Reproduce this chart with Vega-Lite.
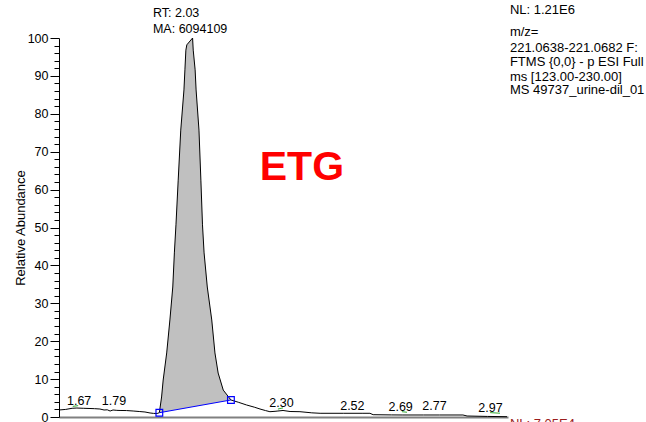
{
  "$schema": "https://vega.github.io/schema/vega-lite/v6.json",
  "width": 449,
  "height": 379,
  "autosize": {"type": "none"},
  "padding": {"left": 59, "top": 38, "right": 138, "bottom": 5},
  "background": "white",
  "config": {"view": {"stroke": null}, "font": "Liberation Sans"},
  "resolve": {"axis": {"y": "independent"}},
  "datasets": {
    "trace": [
      {"t": 1.609, "y": 1.85}, {"t": 1.63, "y": 2.0}, {"t": 1.65, "y": 2.3}, {"t": 1.665, "y": 2.37},
      {"t": 1.685, "y": 2.3}, {"t": 1.706, "y": 2.24}, {"t": 1.72, "y": 2.2}, {"t": 1.737, "y": 2.11},
      {"t": 1.75, "y": 1.85}, {"t": 1.76, "y": 1.9}, {"t": 1.769, "y": 1.58}, {"t": 1.778, "y": 1.85},
      {"t": 1.79, "y": 1.75}, {"t": 1.8, "y": 1.72}, {"t": 1.82, "y": 1.7}, {"t": 1.841, "y": 1.58},
      {"t": 1.86, "y": 1.45}, {"t": 1.878, "y": 1.32}, {"t": 1.894, "y": 1.06}, {"t": 1.905, "y": 0.95},
      {"t": 1.916, "y": 0.92},
      {"t": 1.923, "y": 1.13, "base": 1.13},
      {"t": 1.93, "y": 5.28, "base": 1.24},
      {"t": 1.935, "y": 9.76, "base": 1.31},
      {"t": 1.946, "y": 16.9, "base": 1.48},
      {"t": 1.956, "y": 25.6, "base": 1.63},
      {"t": 1.965, "y": 34.3, "base": 1.76},
      {"t": 1.97, "y": 43.3, "base": 1.84},
      {"t": 1.975, "y": 50.7, "base": 1.91},
      {"t": 1.982, "y": 62.5, "base": 2.02},
      {"t": 1.99, "y": 75.7, "base": 2.14},
      {"t": 2.0, "y": 86.3, "base": 2.29},
      {"t": 2.003, "y": 91.6, "base": 2.33},
      {"t": 2.006, "y": 96.8, "base": 2.38},
      {"t": 2.009, "y": 98.2, "base": 2.42},
      {"t": 2.027, "y": 100, "base": 2.69},
      {"t": 2.029, "y": 96.8, "base": 2.72},
      {"t": 2.035, "y": 91.6, "base": 2.81},
      {"t": 2.038, "y": 86.3, "base": 2.86},
      {"t": 2.047, "y": 75.7, "base": 2.99},
      {"t": 2.053, "y": 62.5, "base": 3.08},
      {"t": 2.058, "y": 50.7, "base": 3.16},
      {"t": 2.063, "y": 43.3, "base": 3.23},
      {"t": 2.073, "y": 34.3, "base": 3.38},
      {"t": 2.087, "y": 25.6, "base": 3.59},
      {"t": 2.097, "y": 16.9, "base": 3.74},
      {"t": 2.107, "y": 11.6, "base": 3.89},
      {"t": 2.123, "y": 7.1, "base": 4.13},
      {"t": 2.147, "y": 4.49, "base": 4.49},
      {"t": 2.17, "y": 3.9}, {"t": 2.196, "y": 3.17}, {"t": 2.22, "y": 2.6}, {"t": 2.238, "y": 2.11},
      {"t": 2.255, "y": 1.7}, {"t": 2.269, "y": 1.4}, {"t": 2.285, "y": 1.5}, {"t": 2.294, "y": 1.58},
      {"t": 2.31, "y": 1.72}, {"t": 2.332, "y": 1.45}, {"t": 2.363, "y": 1.4}, {"t": 2.4, "y": 1.1},
      {"t": 2.426, "y": 0.98}, {"t": 2.5, "y": 0.98}, {"t": 2.56, "y": 0.98}, {"t": 2.582, "y": 0.98},
      {"t": 2.592, "y": 0.61}, {"t": 2.65, "y": 0.55}, {"t": 2.685, "y": 0.53}, {"t": 2.75, "y": 0.53},
      {"t": 2.8, "y": 0.53}, {"t": 2.873, "y": 0.53}, {"t": 2.886, "y": 0.26}, {"t": 2.95, "y": 0.15},
      {"t": 3.011, "y": 0.08}
    ],
    "blue": [{"t": 1.923, "y": 1.13}, {"t": 2.147, "y": 4.49}],
    "green": [
      {"t": 1.652, "t2": 1.669, "y": 2.8, "y2": 3.0},
      {"t": 2.294, "t2": 2.31, "y": 2.1, "y2": 2.4},
      {"t": 2.682, "t2": 2.698, "y": 1.4, "y2": 1.25},
      {"t": 2.958, "t2": 2.989, "y": 1.15, "y2": 1.0}
    ],
    "peaks": [
      {"t": 1.672, "y": 3.17, "label": "1.67"},
      {"t": 1.781, "y": 3.17, "label": "1.79"},
      {"t": 2.305, "y": 2.64, "label": "2.30"},
      {"t": 2.527, "y": 1.85, "label": "2.52"},
      {"t": 2.678, "y": 1.66, "label": "2.69"},
      {"t": 2.784, "y": 1.85, "label": "2.77"},
      {"t": 2.959, "y": 1.4, "label": "2.97"}
    ],
    "rtma": [
      {"t": 1.903, "y": 105.6, "label": "RT: 2.03"},
      {"t": 1.903, "y": 101.4, "label": "MA: 6094109"}
    ],
    "info": [
      {"t": 3.02, "y": 106.3, "label": "NL: 1.21E6"},
      {"t": 3.02, "y": 100.4, "label": "m/z="},
      {"t": 3.02, "y": 96.4, "label": "221.0638-221.0682 F:"},
      {"t": 3.02, "y": 92.6, "label": "FTMS {0,0}  - p ESI Full"},
      {"t": 3.02, "y": 88.7, "label": "ms [123.00-230.00]"},
      {"t": 3.02, "y": 85.1, "label": "MS 49737_urine-dil_01"}
    ],
    "nl2": [{"t": 3.02, "y": -2.9, "label": "NL: 7.05E4"}],
    "etg": [{"t": 2.369, "y": 62.5, "label": "ETG"}]
  },
  "layer": [
    {
      "data": {"name": "trace"},
      "transform": [{"filter": "isValid(datum.base)"}],
      "mark": {"type": "area", "color": "#c0c0c0", "opacity": 1},
      "encoding": {
        "x": {
          "field": "t", "type": "quantitative",
          "scale": {"domain": [1.609, 3.014], "nice": false, "zero": false},
          "axis": {"title": null, "ticks": false, "labels": false, "grid": false, "domainColor": "#808080", "domainWidth": 2}
        },
        "y": {
          "field": "y", "type": "quantitative",
          "scale": {"domain": [0, 100], "nice": false, "zero": true},
          "axis": {
            "orient": "left",
            "title": "Relative Abundance",
            "titleFont": "Liberation Sans", "titleFontSize": 13, "titleFontWeight": "normal", "titleColor": "black",
            "titlePadding": 0,
            "values": [0, 10, 20, 30, 40, 50, 60, 70, 80, 90, 100],
            "labelOverlap": false,
            "labelFont": "Liberation Sans", "labelFontSize": 12.5, "labelColor": "black",
            "tickSize": 9, "tickColor": "black", "domainColor": "black", "labelPadding": 2, "grid": false
          }
        },
        "y2": {"field": "base"}
      }
    },
    {
      "data": {"name": "trace"},
      "mark": {"type": "line", "color": "black", "strokeWidth": 1},
      "encoding": {
        "x": {"field": "t", "type": "quantitative"},
        "y": {
          "field": "y", "type": "quantitative",
          "axis": {
            "orient": "left", "title": null, "labels": false, "domain": false, "grid": false,
            "values": [2,4,6,8,12,14,16,18,22,24,26,28,32,34,36,38,42,44,46,48,52,54,56,58,62,64,66,68,72,74,76,78,82,84,86,88,92,94,96,98],
            "tickSize": 5, "tickColor": "black"
          }
        }
      }
    },
    {
      "data": {"name": "blue"},
      "mark": {"type": "line", "color": "#0000ff", "strokeWidth": 1},
      "encoding": {
        "x": {"field": "t", "type": "quantitative"},
        "y": {"field": "y", "type": "quantitative", "axis": null}
      }
    },
    {
      "data": {"name": "blue"},
      "mark": {"type": "point", "shape": "square", "size": 45, "filled": false, "color": "#0000ff", "strokeWidth": 1.2, "opacity": 1},
      "encoding": {
        "x": {"field": "t", "type": "quantitative"},
        "y": {"field": "y", "type": "quantitative", "axis": null}
      }
    },
    {
      "data": {"name": "green"},
      "mark": {"type": "rule", "color": "#33aa33", "strokeWidth": 1},
      "encoding": {
        "x": {"field": "t", "type": "quantitative"},
        "x2": {"field": "t2"},
        "y": {"field": "y", "type": "quantitative", "axis": null},
        "y2": {"field": "y2"}
      }
    },
    {
      "data": {"name": "peaks"},
      "mark": {"type": "text", "align": "center", "baseline": "alphabetic", "fontSize": 12.5, "color": "black", "font": "Liberation Sans"},
      "encoding": {
        "x": {"field": "t", "type": "quantitative"},
        "y": {"field": "y", "type": "quantitative", "axis": null},
        "text": {"field": "label"}
      }
    },
    {
      "data": {"name": "rtma"},
      "mark": {"type": "text", "align": "left", "baseline": "alphabetic", "fontSize": 12.5, "color": "black", "font": "Liberation Sans"},
      "encoding": {
        "x": {"field": "t", "type": "quantitative"},
        "y": {"field": "y", "type": "quantitative", "axis": null},
        "text": {"field": "label"}
      }
    },
    {
      "data": {"name": "info"},
      "mark": {"type": "text", "align": "left", "baseline": "alphabetic", "fontSize": 13, "color": "black", "font": "Liberation Sans"},
      "encoding": {
        "x": {"field": "t", "type": "quantitative"},
        "y": {"field": "y", "type": "quantitative", "axis": null},
        "text": {"field": "label"}
      }
    },
    {
      "data": {"name": "nl2"},
      "mark": {"type": "text", "align": "left", "baseline": "alphabetic", "fontSize": 13, "color": "#9b1c1c", "font": "Liberation Sans"},
      "encoding": {
        "x": {"field": "t", "type": "quantitative"},
        "y": {"field": "y", "type": "quantitative", "axis": null},
        "text": {"field": "label"}
      }
    },
    {
      "data": {"name": "etg"},
      "mark": {"type": "text", "align": "center", "baseline": "alphabetic", "fontSize": 41, "fontWeight": "bold", "color": "#ff0000", "font": "Liberation Sans"},
      "encoding": {
        "x": {"field": "t", "type": "quantitative"},
        "y": {"field": "y", "type": "quantitative", "axis": null},
        "text": {"field": "label"}
      }
    }
  ]
}
